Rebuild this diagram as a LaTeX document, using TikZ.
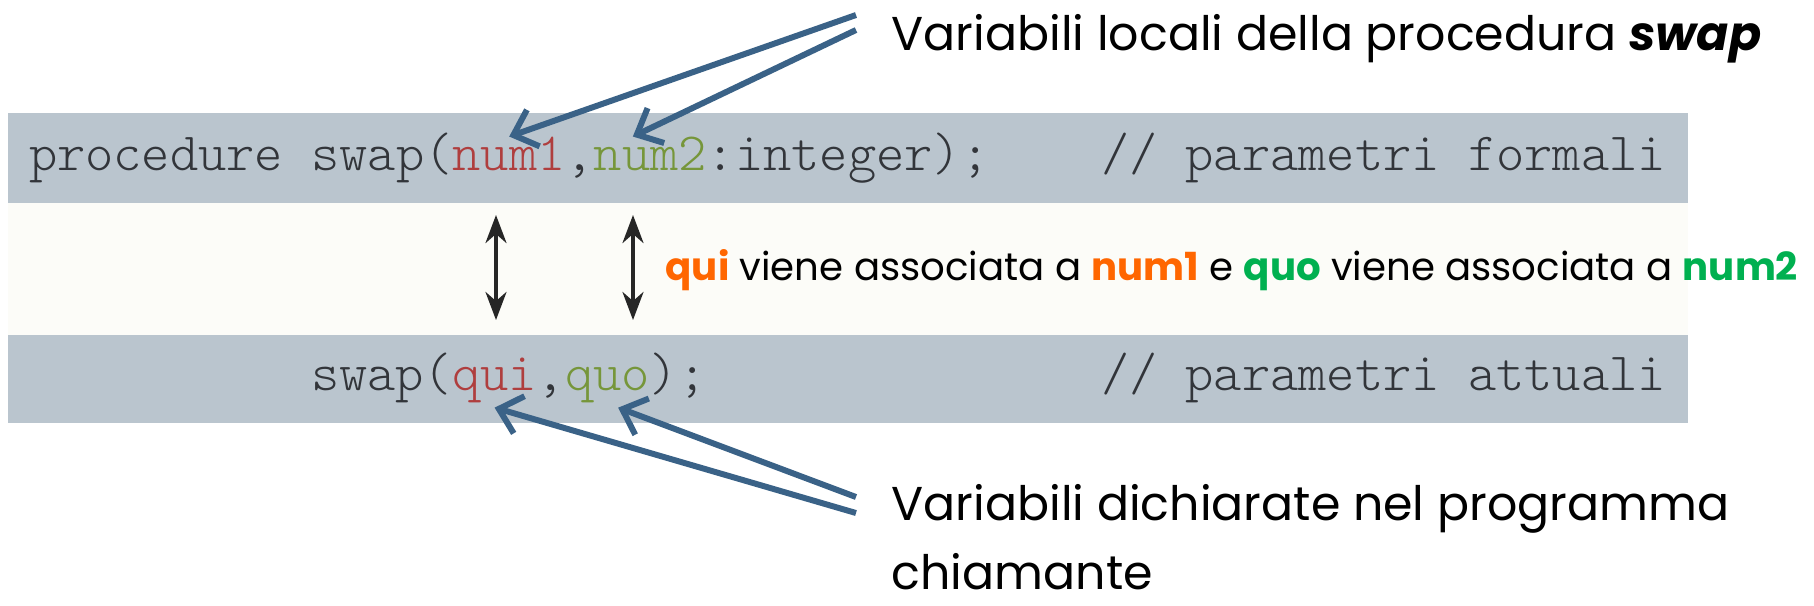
\documentclass[tikz,border=0pt]{standalone}
\usepackage{fontspec}
\setmainfont{Poppins}
\newfontfamily\codefont{lmmonolt10-regular.otf}
\usetikzlibrary{arrows.meta, positioning}
\definecolor{bandgrey}{RGB}{186,197,206}
\definecolor{paper}{RGB}{252,252,248}
\definecolor{arrowblue}{RGB}{58,98,135}
\definecolor{hotorange}{RGB}{255,102,0}
\definecolor{hotgreen}{RGB}{0,176,80}
\definecolor{codered}{RGB}{175,62,62}
\definecolor{codegreen}{RGB}{118,150,58}
\definecolor{codeink}{RGB}{50,53,58}
\tikzset{
  code/.style={inner sep=0pt, outer sep=0pt, anchor=base west, text=codeink,
    font=\fontsize{15.3}{18}\codefont},
  note/.style={inner sep=0pt, anchor=base west, font=\fontsize{13.5}{19.5}\selectfont},
  pointer/.style={arrowblue, line width=1.7pt, -{Straight Barb[length=6pt,width=11pt]}},
  link/.style={line width=0.9pt, draw=black!85,
    {Stealth[length=8pt,width=6pt]}-{Stealth[length=8pt,width=6pt]}},
}
\begin{document}
\begin{tikzpicture}[x=0.01cm, y=-0.01cm]
  \useasboundingbox (0,0) rectangle (1814,605);
  % listing background
  \fill[paper] (8,203) rectangle (1688,335);
  \fill[bandgrey] (8,113) rectangle (1688,203);
  \fill[bandgrey] (8,335) rectangle (1688,423);

  % formal parameters
  \node[code] (head) at (29,170) {procedure swap(};
  \node[code, text=codered] (num1) at (head.base east) {num1};
  \node[code] (comma1) at (num1.base east) {,};
  \node[code, text=codegreen] (num2) at (comma1.base east) {num2};
  \node[code] (tail1) at (num2.base east) {:integer);};
  \node[code] (formali) at (1101,170) {// parametri formali};

  % actual parameters
  \node[code] (call) at (311,390) {swap(};
  \node[code, text=codered] (qui) at (call.base east) {qui};
  \node[code] (comma2) at (qui.base east) {,};
  \node[code, text=codegreen] (quo) at (comma2.base east) {quo};
  \node[code] (tail2) at (quo.base east) {);};
  \node[code] (attuali) at (1101,390) {// parametri attuali};

  % notes
  \node[note] (locali) at (891,50) {Variabili locali della procedura \textbf{\textit{swap}}};
  \node[note, align=left, text depth=0pt] (chiamanti) at (891,589)
    {Variabili dichiarate nel programma\\chiamante};
  \node[note, font=\fontsize{11}{13}\selectfont] (assoc) at (665,280)
    {\textcolor{hotorange}{\textbf{qui}} viene associata a \textcolor{hotorange}{\textbf{num1}}
     e \textcolor{hotgreen}{\textbf{quo}} viene associata a \textcolor{hotgreen}{\textbf{num2}}};

  % pointers to the variables
  \coordinate (up1) at (856,15);
  \coordinate (up2) at (856,30);
  \coordinate (low1) at (856,513);
  \coordinate (low2) at (856,497);
  \draw[pointer] (up1) -- (num1.north);
  \draw[pointer] (up2) -- ([xshift=-5pt]num2.north);
  \draw[pointer] (low1) -- ([yshift=-1.5pt]qui.south);
  \draw[pointer] (low2) -- ([xshift=3pt,yshift=-1.5pt]quo.south);

  % association arrows
  \coordinate (a1) at (496,215);
  \coordinate (b1) at (496,320);
  \coordinate (a2) at (633,215);
  \coordinate (b2) at (633,320);
  \draw[link] (a1) -- (b1);
  \draw[link] (a2) -- (b2);
\end{tikzpicture}
\end{document}
